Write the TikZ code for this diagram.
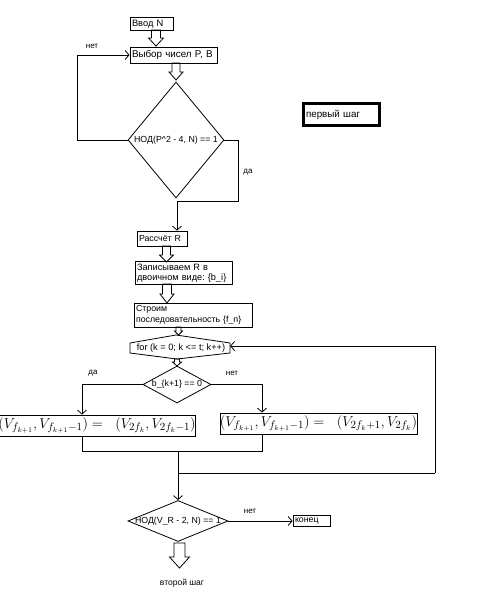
\documentclass[tikz,border=0pt]{standalone}
\usepackage[no-math]{fontspec}
\setmainfont{Liberation Sans}
\usetikzlibrary{arrows.meta,shapes.geometric}
\newcommand\blockarr[6]{%
  \draw[line width=0.8pt] ({#1-#4},#2) -- ({#1-#4},{#3-#6}) -- ({#1-#5},{#3-#6}) -- (#1,#3)
    -- ({#1+#5},{#3-#6}) -- ({#1+#4},{#3-#6}) -- ({#1+#4},#2) -- cycle;}
\tikzset{
  pbox/.style={draw, line width=0.8pt, inner sep=2pt, align=left, anchor=center,
    font=\fontsize{8.8}{10}\selectfont},
  fbox/.style={draw, line width=0.8pt, inner sep=0pt, anchor=center,
    font=\fontsize{15}{16}\selectfont},
  dia/.style={diamond, draw, line width=0.8pt, inner sep=0pt},
  dtext/.style={font=\fontsize{8.8}{10}\selectfont, inner sep=0pt},
  lbl/.style={font=\fontsize{8}{9}\selectfont, inner sep=0pt},
  arr/.style={line width=0.8pt, -{Straight Barb[length=4pt,width=9pt]}},
  ln/.style={line width=0.8pt}
}
\begin{document}
\begin{tikzpicture}[x=1pt,y=-1pt]
\useasboundingbox[fill=white] (0,0) rectangle (500,605);

% boxes
\node[pbox, text width=39pt, minimum height=12pt, font=\fontsize{9.3}{10}\selectfont] (vvod) at (151.5,24) {Ввод N};
\node[pbox, text width=83pt, minimum height=16pt, font=\fontsize{9.8}{10}\selectfont] (vybor) at (173.5,55) {Выбор чисел P, B};
\node[pbox, text width=46pt, minimum height=15pt] (rasch) at (162,238.5) {Рассчёт R};
\node[pbox, text width=93pt, minimum height=22pt, font=\fontsize{9.2}{10.5}\selectfont] (zap) at (183.5,273) {Записываем R в\\двоичном~виде:~\{b\_i\}};
\node[pbox, text width=114pt, minimum height=24pt, font=\fontsize{8.8}{11}\selectfont] (stroim) at (193,315) {Строим\\последовательность \{f\_n\}};
\node[pbox, text width=33pt, minimum height=11pt] (konec) at (311.5,521) {конец};
\node[pbox, line width=3pt, text width=70pt, minimum height=22pt, inner sep=3pt, font=\fontsize{9.8}{11}\selectfont] (perv) at (341,114.5) {первый шаг};

% diamonds
\node[dia, minimum width=96pt, minimum height=116pt] (d1) at (176,140) {};
\node[dtext] at (d1) {НОД(P\^{}2 - 4, N) == 1};
\node[dia, minimum width=68pt, minimum height=37pt] (bd) at (177,384.5) {};
\node[dtext] at (bd) {b\_\{k+1\} == 0};
\node[dia, minimum width=100pt, minimum height=41pt] (d3) at (178,521) {};
\node[dtext] at (d3) {НОД(V\_R - 2, N) == 1};

% for hexagon
\node[dtext, font=\fontsize{9.2}{10}\selectfont] (fortext) at (181,348) {for (k = 0; k <= t; k++)};
\coordinate (fA) at (130,343);
\coordinate (fB) at (176,335);
\coordinate (fC) at (230,343);
\coordinate (fD) at (230,353);
\coordinate (fE) at (177,359);
\coordinate (fF) at (130,353);
\draw[ln] (fA) -- (fB) -- (fC) -- (fD) -- (fE) -- (fF) -- cycle;
\coordinate (forR) at (230,346);

% formula boxes
\node[fbox, minimum width=192pt, minimum height=21pt] (lbox) at (97,425.5)
  {$(V_{f_{k+1}},V_{f_{k+1}-1}) =\ \ (V_{2f_k},V_{2f_k-1})$};
\node[fbox, minimum width=191pt, minimum height=21pt] (rbox) at (318.5,423.5)
  {$(V_{f_{k+1}},V_{f_{k+1}-1}) =\ \ (V_{2f_k+1},V_{2f_k})$};

% block arrows
\blockarr{156}{30}{46}{4.5}{7.5}{8}
\blockarr{176}{63}{80}{4}{7}{8}
\blockarr{166.5}{246}{262}{4}{7}{7}
\blockarr{167}{284}{303}{4.5}{7}{9}
\blockarr{178.5}{327}{335}{2.5}{4}{4}
\blockarr{177}{359}{366}{2.5}{4.5}{4}
\blockarr{179.5}{543}{568}{5.5}{10}{11}

% loop 1
\coordinate (l1) at (77,0);
\draw[arr] (d1.west) -- (d1.west -| l1) -- (l1 |- vybor.west) -- (vybor.west);
\node[lbl] at (92,46) {нет};
% yes branch 1
\coordinate (r1) at (238,201);
\coordinate (da1) at (177,201);
\draw[arr] (d1.east) -- (d1.east -| r1) -- (r1) -- (da1) -- (da1 |- rasch.north);
\node[lbl] at (248,172) {да};

% b branches
\coordinate (xl) at (82,0);
\coordinate (xr) at (262,0);
\draw[arr] (bd.west) -| (xl |- lbox.north);
\draw[arr] (bd.east) -| (xr |- rbox.north);
\node[lbl] at (93,373) {да};
\node[lbl] at (232,373) {нет};

% merge
\coordinate (m) at (178,451);
\draw[ln] (xl |- lbox.south) -- (xl |- m) -- (xr |- m) -- (xr |- rbox.south);
\draw[arr] (m) -- (d3.north);
% loop back
\coordinate (j) at (178,473);
\coordinate (rr) at (435,0);
\draw[ln] (j) -- (j -| rr);
\draw[arr] (j -| rr) -- (rr |- forR) -- (forR);

% exit
\draw[arr] (d3.east) -- (konec.west);
\node[lbl] at (250,511) {нет};
\node[lbl, font=\fontsize{8.5}{10}\selectfont] (vtor) at (182,583) {второй шаг};
\end{tikzpicture}
\end{document}
